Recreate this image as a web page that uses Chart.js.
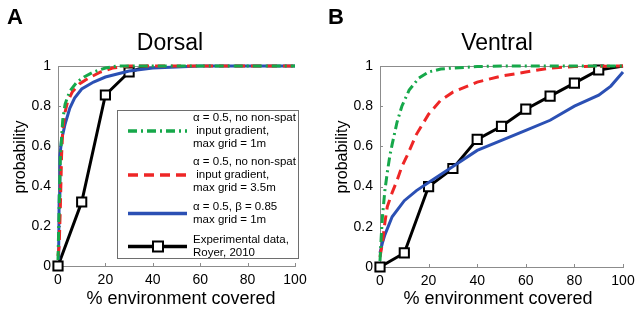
<!DOCTYPE html>
<html><head><meta charset="utf-8">
<script src="https://cdn.jsdelivr.net/npm/chart.js@4/dist/chart.umd.min.js"></script>
<style>
html,body{margin:0;padding:0;background:#fff;}
#wrap{position:relative;width:644px;height:316px;overflow:hidden;}
.pane{position:absolute;top:0;width:322px;height:316px;}
</style></head><body>
<div id="wrap">
<div class="pane" style="left:0"><canvas id="c1" width="322" height="316"></canvas></div>
<div class="pane" style="left:322px"><canvas id="c2" width="322" height="316"></canvas></div>
</div>
<script>
// ---- data ----
const xTickVals = [0, 20, 40, 60, 80, 100];
const yTickVals = [0, 0.2, 0.4, 0.6, 0.8, 1];
const panelTitles = ["Dorsal", "Ventral"];
const panelLetters = ["A", "B"];
const xTitle = "% environment covered";
const yTitle = "probability";

// Dorsal
const dGreenX = [0, 0.5, 1, 2, 3, 5, 8, 11, 15, 20, 25, 100];
const dGreenY = [0.03, 0.3, 0.55, 0.73, 0.81, 0.875, 0.92, 0.945, 0.97, 0.99, 1, 1];
const dRedX = [0, 0.5, 1, 1.5, 2, 3, 4, 6, 9, 13, 18, 23, 30, 100];
const dRedY = [0.05, 0.1, 0.3, 0.55, 0.68, 0.77, 0.82, 0.87, 0.91, 0.94, 0.97, 0.99, 1, 1];
const dBlueX = [0, 0.3, 0.5, 0.8, 1.5, 3, 5, 7, 10, 15, 20, 30, 40, 50, 60, 100];
const dBlueY = [0.04, 0.1, 0.35, 0.55, 0.63, 0.71, 0.79, 0.84, 0.885, 0.92, 0.945, 0.975, 0.99, 0.995, 1, 1];
const dBlackX = [0, 10, 20, 30, 38];
const dBlackY = [0, 0.32, 0.855, 0.97, 1];

// Ventral
const vGreenX = [0, 0.5, 1, 2, 3, 4, 5, 7, 9, 12, 16, 20, 25, 30, 40, 50, 100];
const vGreenY = [0.03, 0.15, 0.25, 0.38, 0.47, 0.55, 0.61, 0.72, 0.8, 0.88, 0.94, 0.97, 0.985, 0.99, 0.997, 1, 1];
const vRedX = [0, 1, 2, 3, 5, 7, 9, 11, 15, 20, 25, 30, 40, 50, 60, 70, 80, 100];
const vRedY = [0.05, 0.12, 0.22, 0.3, 0.37, 0.43, 0.5, 0.55, 0.66, 0.76, 0.83, 0.87, 0.92, 0.95, 0.97, 0.99, 0.997, 1];
const vBlueX = [0, 1, 2, 5, 10, 15, 20, 30, 40, 50, 60, 70, 80, 90, 95, 100];
const vBlueY = [0.07, 0.12, 0.16, 0.25, 0.33, 0.38, 0.42, 0.5, 0.58, 0.63, 0.68, 0.73, 0.8, 0.855, 0.9, 0.97];
const vBlackX = [0, 10, 20, 30, 40, 50, 60, 70, 80, 90, 100];
const vBlackY = [0, 0.07, 0.4, 0.49, 0.635, 0.7, 0.785, 0.85, 0.915, 0.98, 1];

const legendTexts = [
  ["α = 0.5, no non-spat", " input gradient,", "max grid = 1m"],
  ["α = 0.5, no non-spat", " input gradient,", "max grid = 3.5m"],
  ["α = 0.5, β = 0.85", "max grid = 1m"],
  ["Experimental data,", "Royer, 2010"]
];

// ---- styles ----
const FONT = "'Liberation Sans', Arial, Helvetica, sans-serif";
const GREEN = "#16a84a", RED = "#ee2626", BLUE = "#2b50b4", BLACK = "#000";
const styles = [
  {borderColor: GREEN, borderDash: [9, 4, 2, 4], borderWidth: 3},
  {borderColor: RED, borderDash: [10, 6], borderWidth: 3},
  {borderColor: BLUE, borderDash: [], borderWidth: 3},
  {borderColor: BLACK, borderDash: [], borderWidth: 3}
];

function pts(xs, ys) { return xs.map((x, i) => ({x: x, y: ys[i]})); }

function makeDatasets(g, r, b, k) {
  const sets = [g, r, b].map((d, i) => Object.assign({
    data: d, pointRadius: 0, fill: false, tension: 0, clip: false
  }, styles[i]));
  const kr = k.map((p, i) => (i === k.length - 1 ? 0 : 6.5));
  sets.push(Object.assign({
    data: k, pointRadius: kr, pointStyle: 'rect', pointBorderColor: BLACK,
    pointBackgroundColor: '#fff', pointBorderWidth: 2, fill: false, tension: 0, clip: false
  }, styles[3]));
  return sets;
}

function decorPlugin(idx, withLegend) {
  return {
    id: 'decor' + idx,
    beforeDatasetsDraw(chart) {
      const ctx = chart.ctx, a = chart.chartArea, xs = chart.scales.x, ys = chart.scales.y;
      ctx.save();
      ctx.strokeStyle = '#8c8c8c'; ctx.lineWidth = 1;
      ctx.beginPath();
      ctx.moveTo(a.left, a.top + 0.5); ctx.lineTo(a.right, a.top + 0.5);
      xTickVals.forEach(v => {
        const px = Math.round(xs.getPixelForValue(v)) + 0.5;
        ctx.moveTo(px, a.bottom); ctx.lineTo(px, a.bottom - 3);
      });
      yTickVals.forEach(v => {
        const py = Math.round(ys.getPixelForValue(v)) + 0.5;
        ctx.moveTo(a.left, py); ctx.lineTo(a.left + 3, py);
      });
      ctx.stroke();
      ctx.restore();
    },
    afterDraw(chart) {
      const ctx = chart.ctx;
      ctx.save();
      ctx.fillStyle = '#000';
      ctx.textBaseline = 'alphabetic';
      // panel letter
      ctx.font = "bold 22px " + FONT;
      ctx.textAlign = 'left';
      ctx.fillText(panelLetters[idx], idx === 0 ? 7 : 6, 24);
      // title
      ctx.font = "23px " + FONT;
      ctx.textAlign = 'center';
      ctx.fillText(panelTitles[idx], idx === 0 ? 170 : 175, 50);
      // x title
      ctx.font = "18px " + FONT;
      ctx.fillText(xTitle, idx === 0 ? 181 : 176, 304);
      // y title
      ctx.save();
      ctx.translate(25, 157);
      ctx.rotate(-Math.PI / 2);
      ctx.font = "16px " + FONT;
      ctx.textAlign = 'center';
      ctx.fillText(yTitle, 0, 0);
      ctx.restore();

      if (withLegend) {
        const bx = 117.5, by = 110.5, bw = 181, bh = 148;
        ctx.fillStyle = '#fff';
        ctx.fillRect(bx, by, bw, bh);
        ctx.strokeStyle = '#6e6e6e'; ctx.lineWidth = 1;
        ctx.strokeRect(bx, by, bw, bh);
        const firstCenters = [118, 162, 207, 240];
        const lh = 13;
        ctx.font = "11.5px " + FONT;
        ctx.textAlign = 'left';
        ctx.textBaseline = 'middle';
        legendTexts.forEach((lines, i) => {
          const c0 = firstCenters[i];
          const cy = c0 + (lines.length - 1) * lh / 2;
          const st = styles[i];
          ctx.save();
          ctx.strokeStyle = st.borderColor;
          ctx.lineWidth = st.borderWidth + 0.5;
          ctx.setLineDash(st.borderDash);
          ctx.beginPath();
          ctx.moveTo(128, cy); ctx.lineTo(187, cy);
          ctx.stroke();
          ctx.restore();
          if (i === 3) {
            ctx.save();
            ctx.fillStyle = '#fff'; ctx.strokeStyle = '#000'; ctx.lineWidth = 2;
            ctx.fillRect(153, cy - 5, 10, 10);
            ctx.strokeRect(153, cy - 5, 10, 10);
            ctx.restore();
          }
          ctx.fillStyle = '#000';
          lines.forEach((t, j) => ctx.fillText(t, 193, c0 + j * lh));
        });
      }
      ctx.restore();
    }
  };
}

function makeChart(id, idx, datasets, padRight, xHeight, withLegend) {
  return new Chart(document.getElementById(id), {
    type: 'line',
    data: {datasets: datasets},
    options: {
      responsive: false, animation: false, devicePixelRatio: 1,
      layout: {padding: {top: 66, right: padRight, bottom: 0, left: 0}},
      plugins: {legend: {display: false}, tooltip: {enabled: false}, title: {display: false}},
      elements: {line: {borderCapStyle: 'butt'}},
      scales: {
        x: {
          type: 'linear', min: 0, max: 100,
          afterBuildTicks: s => { s.ticks = xTickVals.map(v => ({value: v})); },
          afterFit: s => { s.height = xHeight; },
          grid: {display: false, drawTicks: false},
          border: {display: true, color: '#8c8c8c', width: 1},
          ticks: {padding: 6, color: '#000', font: {family: FONT, size: 14}, maxRotation: 0,
                  callback: v => String(v)}
        },
        y: {
          type: 'linear', min: 0, max: 1,
          afterBuildTicks: s => { s.ticks = yTickVals.map(v => ({value: v})); },
          afterFit: s => { s.width = 58; },
          grid: {display: false, drawTicks: false},
          border: {display: true, color: '#8c8c8c', width: 1},
          ticks: {padding: 7, color: '#000', font: {family: FONT, size: 14},
                  callback: v => String(v)}
        }
      }
    },
    plugins: [decorPlugin(idx, withLegend)]
  });
}

makeChart('c1', 0, makeDatasets(pts(dGreenX, dGreenY), pts(dRedX, dRedY), pts(dBlueX, dBlueY), pts(dBlackX, dBlackY)), 27, 50, true);
makeChart('c2', 1, makeDatasets(pts(vGreenX, vGreenY), pts(vRedX, vRedY), pts(vBlueX, vBlueY), pts(vBlackX, vBlackY)), 21, 49, false);
</script>
</body></html>
